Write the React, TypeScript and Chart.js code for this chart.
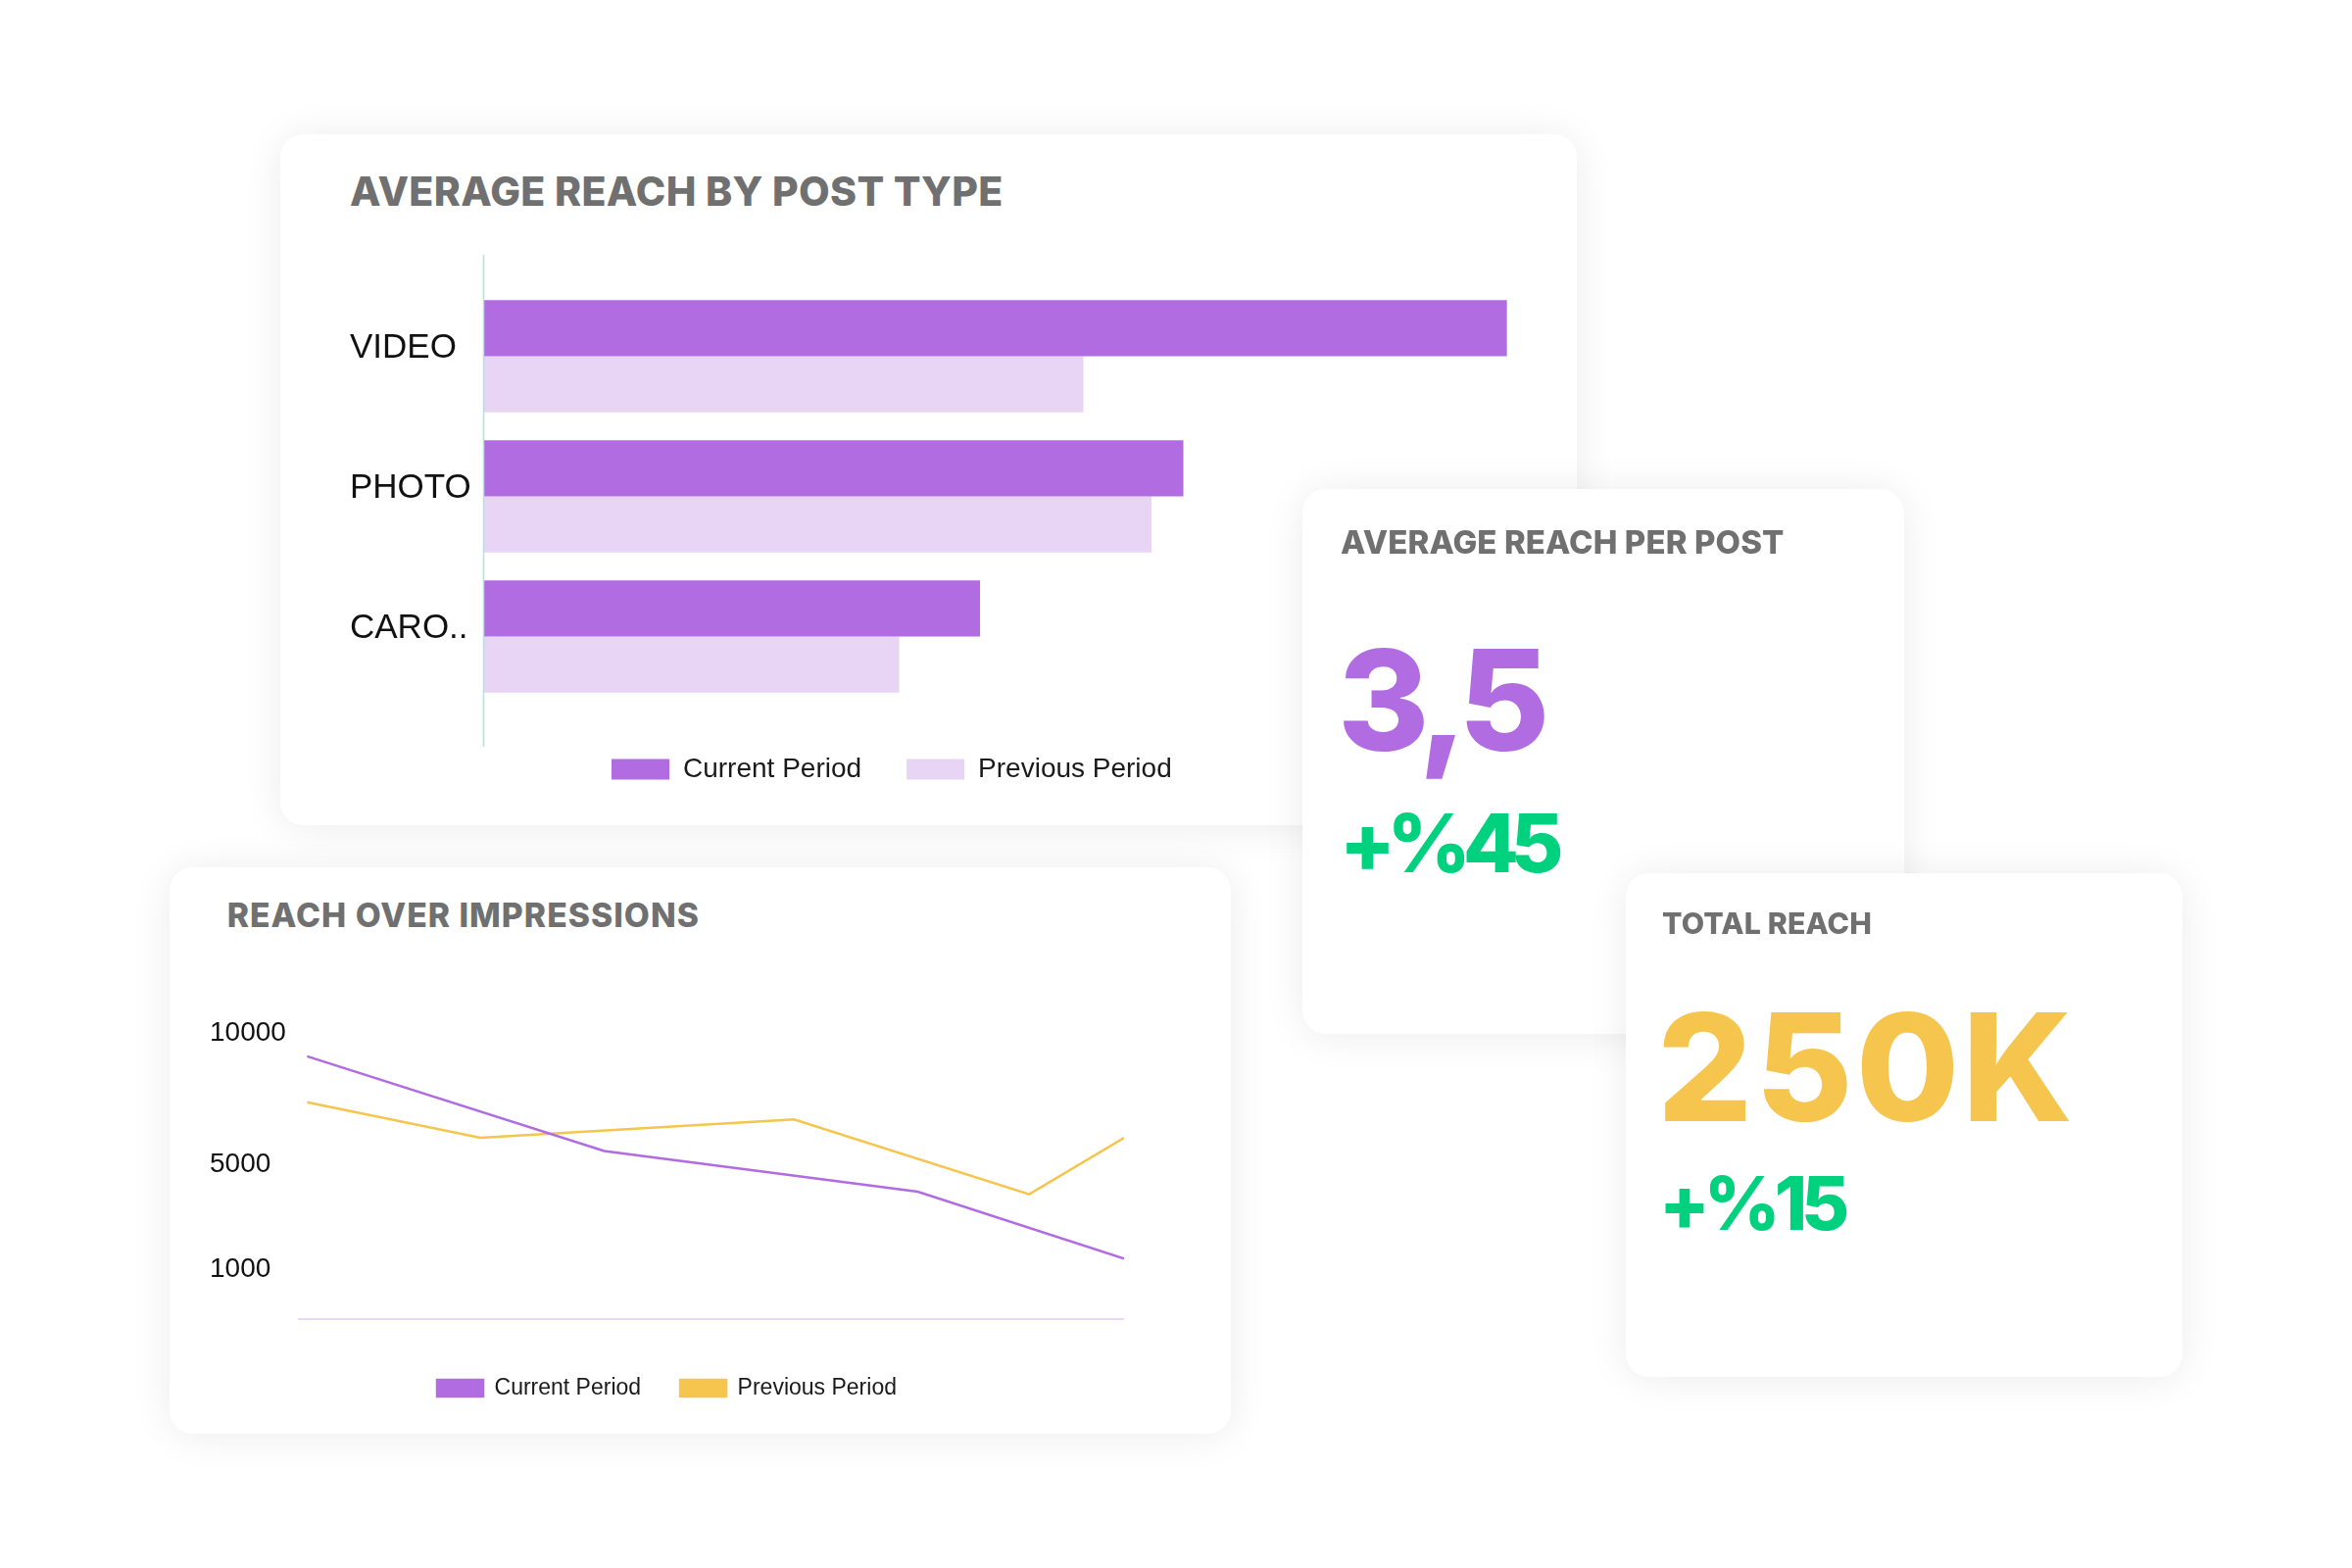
import React, { useEffect, useRef } from 'react';
import { Chart, registerables } from 'chart.js';

Chart.register(...registerables);

// ---------- data ----------
const postTypes = ['VIDEO', 'PHOTO', 'CARO..'];
const reachCurrent = [96.1, 65.7, 46.6];
const reachPrevious = [56.3, 62.7, 39.0];

const impressionsCurrentX = [1, 37, 75, 100];
const impressionsCurrentY = [9100, 5500, 3950, 1400];
const impressionsPreviousX = [1, 22, 60, 88.5, 100];
const impressionsPreviousY = [7350, 6000, 6700, 3850, 6000];
const impressionTicks = [1000, 5000, 10000];

const seriesNames = ['Current Period', 'Previous Period'];

const avgReachPerPost = '3,5';
const avgReachChange = '+%45';
const totalReach = '250K';
const totalReachChange = '+%15';

// ---------- colours ----------
const PURPLE = '#b26ce2';
const LAVENDER = '#e8d4f5';
const YELLOW = '#f5c54d';
const GREEN = '#00d17f';
const TITLE_GRAY = '#707070';
const CHART_FONT = "'Liberation Sans', Arial, sans-serif";
const KPI_FONT = "Inter, 'Noto Sans', sans-serif";

const legendShift = (targetX: number) => ({
  id: 'legendShift',
  afterLayout(chart: any) {
    const lg: any = chart.legend;
    if (!lg || !lg.lineWidths) return;
    const pad = lg.options.labels.padding;
    const x0 = (lg.left + pad + lg.right - lg.lineWidths[0]) / 2;
    const dx = targetX - x0;
    lg.left += dx;
    lg.right += dx;
  },
});

const axisLine = {
  id: 'axisLine',
  afterDatasetsDraw(chart: any) {
    const { ctx, chartArea } = chart;
    ctx.save();
    ctx.strokeStyle = '#a9e8d2';
    ctx.lineWidth = 1.5;
    ctx.beginPath();
    ctx.moveTo(chartArea.left - 0.5, 0);
    ctx.lineTo(chartArea.left - 0.5, chartArea.bottom + 41);
    ctx.stroke();
    ctx.restore();
  },
};

function BarChart() {
  const ref = useRef<HTMLCanvasElement>(null);
  useEffect(() => {
    if (!ref.current) return;
    const chart = new Chart(ref.current, {
      type: 'bar',
      data: {
        labels: postTypes,
        datasets: [
          { label: seriesNames[0], data: reachCurrent, backgroundColor: PURPLE, borderWidth: 0, categoryPercentage: 0.8, barPercentage: 1.0 },
          { label: seriesNames[1], data: reachPrevious, backgroundColor: LAVENDER, borderWidth: 0, categoryPercentage: 0.8, barPercentage: 1.0 },
        ],
      },
      options: {
        responsive: false,
        animation: false,
        indexAxis: 'y',
        layout: { padding: { top: 32, left: 0, right: 0, bottom: 0 } },
        scales: {
          x: {
            min: 0,
            max: 100,
            grid: { display: false, drawTicks: false },
            border: { display: false },
            ticks: { display: false },
            afterFit: (s: any) => { s.height = 4; },
          },
          y: {
            grid: { display: false, drawTicks: false },
            border: { display: false },
            ticks: {
              color: '#111',
              font: { family: CHART_FONT, size: 35 },
              crossAlign: 'far',
              padding: 0,
              labelOffset: -8,
            },
            afterFit: (s: any) => { s.width = 137; },
          },
        },
        plugins: {
          legend: {
            position: 'bottom',
            labels: {
              boxWidth: 59,
              boxHeight: 21,
              padding: 46,
              color: '#1a1a1a',
              font: { family: CHART_FONT, size: 28 },
            },
          },
          tooltip: { enabled: false },
        },
      } as any,
      plugins: [legendShift(267), axisLine],
    });
    return () => chart.destroy();
  }, []);
  return <canvas ref={ref} width={1223} height={549} style={{ position: 'absolute', left: 71, top: 123 }} />;
}

function LineChart() {
  const ref = useRef<HTMLCanvasElement>(null);
  useEffect(() => {
    if (!ref.current) return;
    const chart = new Chart(ref.current, {
      type: 'line',
      data: {
        datasets: [
          {
            label: seriesNames[0],
            data: impressionsCurrentX.map((x, i) => ({ x, y: impressionsCurrentY[i] })),
            borderColor: PURPLE,
            backgroundColor: PURPLE,
            borderWidth: 2.5,
            pointRadius: 0,
            tension: 0,
          },
          {
            label: seriesNames[1],
            data: impressionsPreviousX.map((x, i) => ({ x, y: impressionsPreviousY[i] })),
            borderColor: YELLOW,
            backgroundColor: YELLOW,
            borderWidth: 2.5,
            pointRadius: 0,
            tension: 0,
          },
        ],
      },
      options: {
        responsive: false,
        animation: false,
        layout: { padding: { top: 17, left: 0, right: 0, bottom: 0 } },
        scales: {
          x: {
            type: 'linear',
            min: 0,
            max: 100,
            grid: { display: false, drawTicks: false },
            border: { display: true, color: '#e8daf3', width: 2 },
            ticks: { display: false },
            afterFit: (s: any) => { s.height = 19; },
          },
          y: {
            type: 'linear',
            min: -900,
            max: 11000,
            grid: { display: false, drawTicks: false },
            border: { display: false },
            afterBuildTicks: (s: any) => { s.ticks = impressionTicks.map((v) => ({ value: v })); },
            ticks: {
              color: '#111',
              font: { family: CHART_FONT, size: 28 },
              crossAlign: 'far',
              padding: 0,
              callback: (v: any) => String(v),
            },
            afterFit: (s: any) => { s.width = 91; },
          },
        },
        plugins: {
          legend: {
            position: 'bottom',
            labels: {
              boxWidth: 47,
              boxHeight: 17,
              padding: 40,
              color: '#1a1a1a',
              font: { family: CHART_FONT, size: 23 },
            },
          },
          tooltip: { enabled: false },
        },
      } as any,
    });
    return () => chart.destroy();
  }, []);
  return <canvas ref={ref} width={933} height={428} style={{ position: 'absolute', left: 41, top: 125 }} />;
}

const cardStyle = (left: number, top: number, width: number, height: number, z: number): React.CSSProperties => ({
  position: 'absolute',
  left,
  top,
  width,
  height,
  background: '#fff',
  borderRadius: 24,
  boxShadow: '0 2px 40px rgba(0,0,0,0.08)',
  zIndex: z,
});

const textStyle = (left: number, top: number, size: number, color: string, weight = 800, spacing = '0em'): React.CSSProperties => ({
  position: 'absolute',
  left,
  top,
  fontFamily: KPI_FONT,
  fontSize: size,
  fontWeight: weight,
  color,
  lineHeight: 1,
  whiteSpace: 'nowrap',
  letterSpacing: spacing,
});

export default function App() {
  return (
    <div style={{ position: 'absolute', left: 0, top: 0, width: 2400, height: 1600, background: '#fff', overflow: 'hidden' }}>
      <div style={cardStyle(286, 137, 1323, 705, 1)}>
        <div style={textStyle(71, 37.6, 41, TITLE_GRAY, 800, '0.008em')}>AVERAGE REACH BY POST TYPE</div>
        <BarChart />
      </div>
      <div style={cardStyle(173, 885, 1083, 578, 1)}>
        <div style={textStyle(58.7, 31.7, 33.7, TITLE_GRAY, 800, '0.03em')}>REACH OVER IMPRESSIONS</div>
        <LineChart />
      </div>
      <div style={cardStyle(1329, 499, 614, 556, 2)}>
        <div style={textStyle(39, 38.3, 33, TITLE_GRAY, 800, '0.003em')}>AVERAGE REACH PER POST</div>
        <div style={textStyle(36, 143.5, 142.5, PURPLE, 800, '-0.06em')}>{avgReachPerPost}</div>
        <div style={textStyle(38, 320, 83, GREEN, 800, '-0.1em')}>{avgReachChange}</div>
      </div>
      <div style={cardStyle(1659, 891, 568, 514, 3)}>
        <div style={textStyle(37, 35.8, 30.3, TITLE_GRAY, 800, '0.005em')}>TOTAL REACH</div>
        <div style={textStyle(32, 122.4, 152.5, YELLOW, 800, '0.02em')}>{totalReach}</div>
        <div style={textStyle(34, 299, 75.7, GREEN, 800, '-0.08em')}>{totalReachChange}</div>
      </div>
    </div>
  );
}
